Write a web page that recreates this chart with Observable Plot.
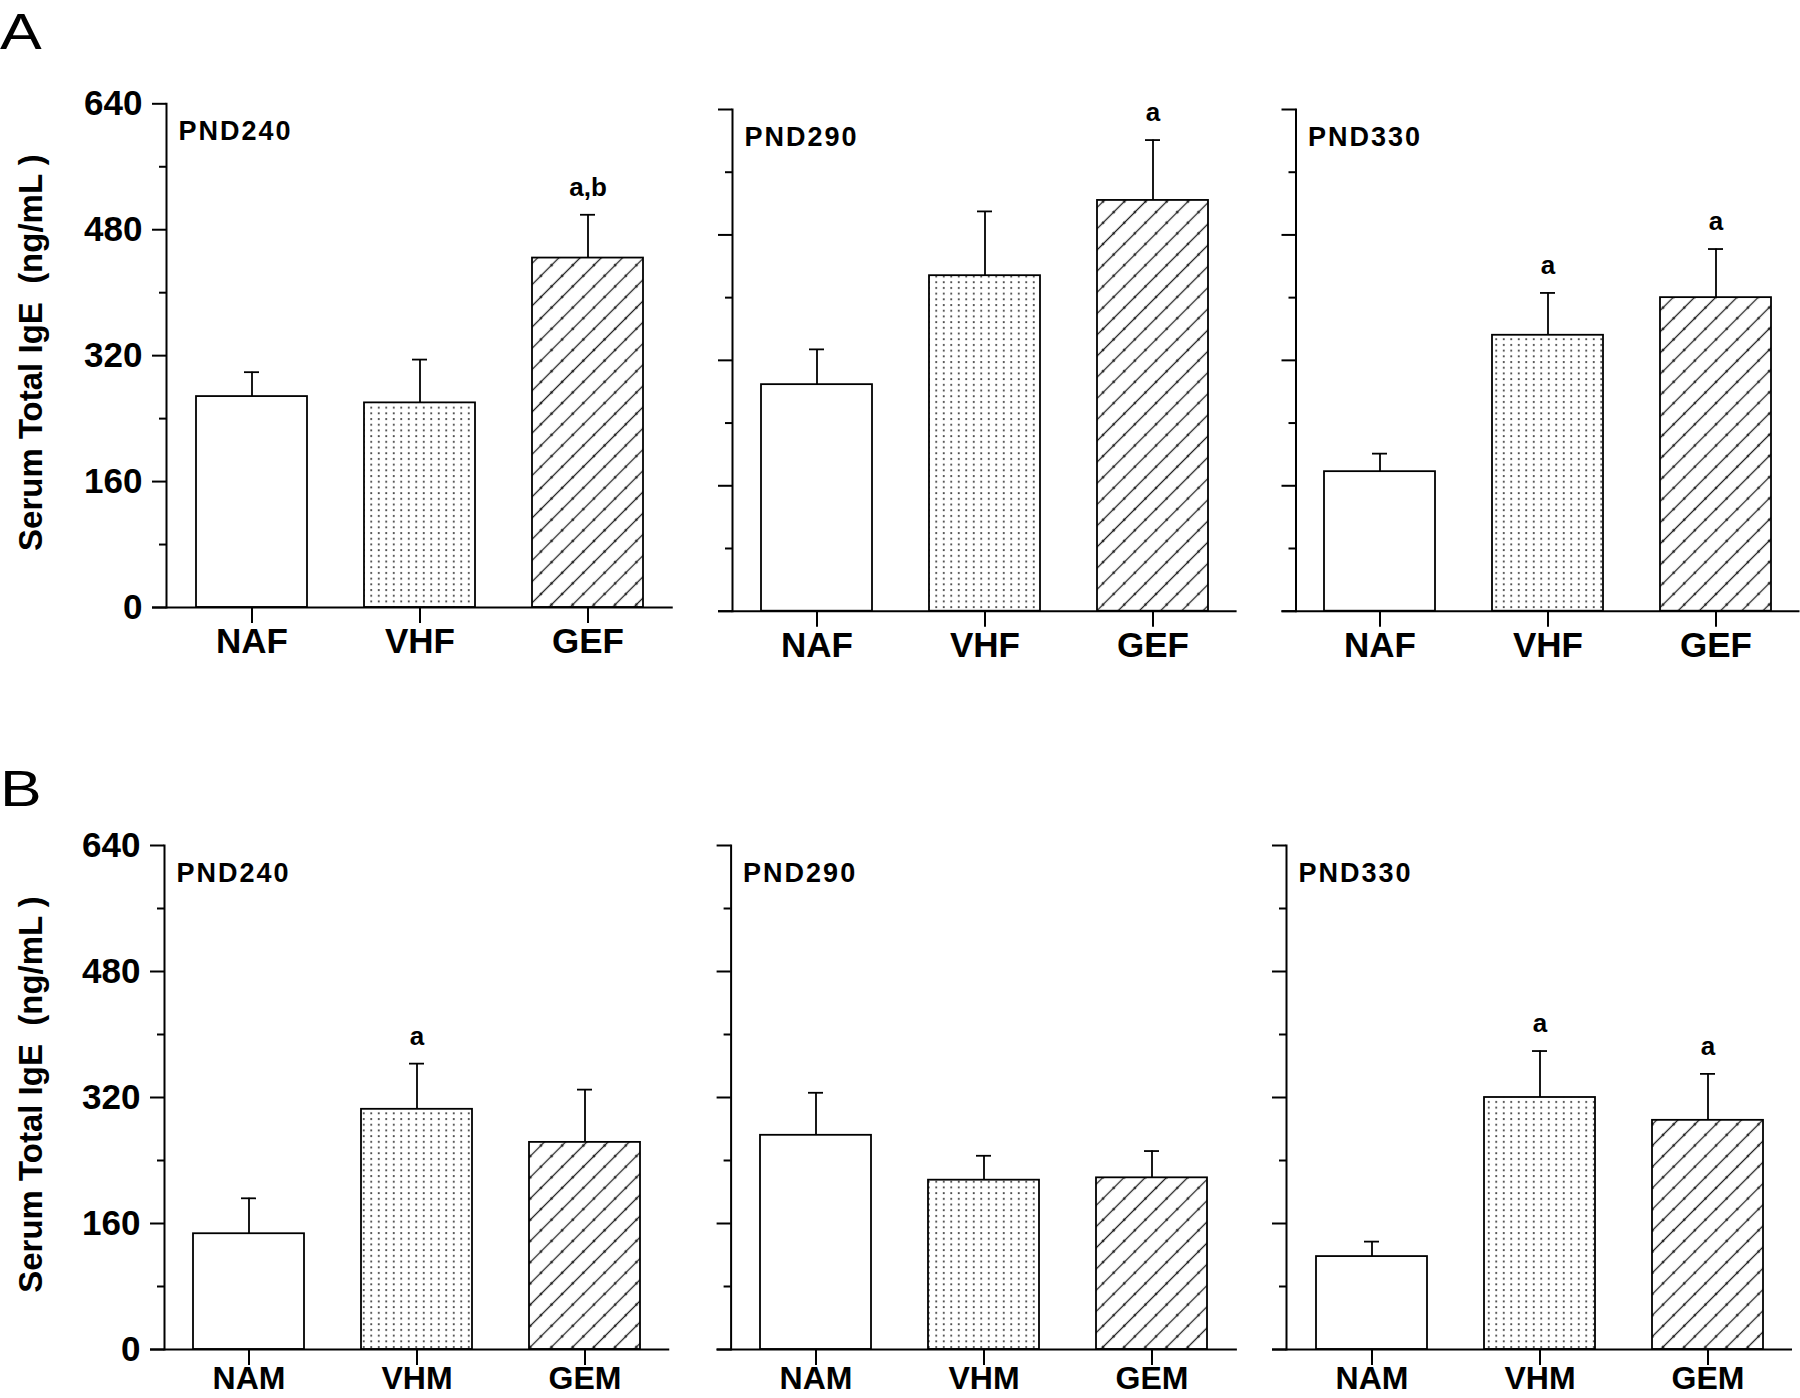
<!DOCTYPE html>
<html><head><meta charset="utf-8">
<script src="https://cdn.jsdelivr.net/npm/d3@7"></script>
<script src="https://cdn.jsdelivr.net/npm/@observablehq/plot@0.6"></script>
<style>
html,body{margin:0;padding:0;background:#fff;overflow:hidden;}
#root{position:relative;width:1800px;height:1398px;overflow:hidden;font-family:"Liberation Sans",Arial,sans-serif;color:#000;}
.panel{position:absolute;}
.letter{position:absolute;left:0;font-size:50px;line-height:1;transform-origin:left top;transform:scaleX(1.25);font-family:"Liberation Sans",Arial,sans-serif;}
</style></head><body>
<div id="root">
<svg width="0" height="0" style="position:absolute">
<defs>
<pattern id="dots" patternUnits="userSpaceOnUse" width="7.5" height="5.7">
 <rect x="3" y="2" width="1.5" height="1.9" fill="#222"/>
</pattern>
<pattern id="hatch" patternUnits="userSpaceOnUse" width="15" height="15" patternTransform="rotate(45)">
 <line x1="7.5" y1="0" x2="7.5" y2="15" stroke="#222" stroke-width="1.3"/>
 <circle cx="7.5" cy="7.5" r="1.3" fill="#111"/>
</pattern>
</defs></svg>
<div class="letter" style="top:7px">A</div>
<div class="letter" style="top:764px">B</div>
</div>
<script>
// ---- data ----
const groupsA = ["NAF", "VHF", "GEF"];
const groupsB = ["NAM", "VHM", "GEM"];
const days = ["PND240", "PND290", "PND330"];
const meanA = [[268, 260, 444], [289, 428, 524], [178, 352, 400]];
const errA  = [[31, 55, 55], [45, 82, 77], [23, 54, 62]];
const sigA  = [["", "", "a,b"], ["", "", "a"], ["", "a", "a"]];
const meanB = [[147, 305, 263], [272, 215, 218], [118, 320, 291]];
const errB  = [[45, 58, 67], [54, 31, 34], [19, 59, 59]];
const sigB  = [["", "a", ""], ["", "", ""], ["", "a", "a"]];
const yTicks = [0, 160, 320, 480, 640];
const yMinorTicks = [80, 240, 400, 560];
const yLabel = "Serum Total IgE\u00a0 (ng/mL )";
const fills = ["white", "url(#dots)", "url(#hatch)"];

// ---- layout ----
const layout = {
  A: [
    {left: 0, top: 0, width: 700, height: 690, mL: 166, mR: 27.25, mT: 103.3, zero: 607, pad: 5, xfs: 35},
    {left: 700, top: 0, width: 560, height: 690, mL: 32, mR: 23.4, mT: 109, zero: 610.7, pad: 5, xfs: 35},
    {left: 1260, top: 0, width: 540, height: 690, mL: 35.5, mR: 0.5, mT: 109, zero: 610.7, pad: 5, xfs: 35}
  ],
  B: [
    {left: 0, top: 700, width: 700, height: 698, mL: 164, mR: 30.75, mT: 145, zero: 649, pad: 1, xfs: 32},
    {left: 700, top: 700, width: 560, height: 698, mL: 30.6, mR: 23.1, mT: 145, zero: 649, pad: 1, xfs: 32},
    {left: 1260, top: 700, width: 540, height: 698, mL: 26, mR: 8, mT: 145, zero: 649, pad: 1, xfs: 32}
  ]
};

const FONT = "'Liberation Sans', Arial, Helvetica, sans-serif";

function panel(cats, means, errs, sigs, day, L, first) {
  const data = cats.map((c, i) => ({cat: c, mean: means[i], top: means[i] + errs[i], sig: sigs[i], fill: fills[i]}));
  const marks = [
    Plot.barY(data, {x: "cat", y: "mean", fill: "fill", stroke: "black", strokeWidth: 1.8}),
    Plot.ruleX(data, {x: "cat", y1: "mean", y2: "top", stroke: "black", strokeWidth: 1.8}),
    Plot.tickY(data, {x: "cat", y: "top", stroke: "black", strokeWidth: 1.8, insetLeft: 48, insetRight: 48}),
    Plot.text(data, {x: "cat", y: "top", text: "sig", dy: -19, lineAnchor: "bottom", fontSize: 26, fontWeight: "bold"}),
    Plot.ruleY([0], {insetLeft: -14, stroke: "black", strokeWidth: 2}),
    Plot.frame({anchor: "left", stroke: "black", strokeWidth: 2}),
    Plot.axisY({ticks: yTicks, tickSize: 14, tickPadding: 10, tickFormat: first ? (d) => String(d) : () => "",
      fontSize: 35, fontWeight: "bold", strokeWidth: 2, label: null}),
    Plot.axisY({ticks: yMinorTicks, tickSize: 7, tickFormat: () => "", strokeWidth: 2, label: null}),
    Plot.axisX({tickSize: 16, tickPadding: L.pad, fontSize: L.xfs, fontWeight: "bold", strokeWidth: 2, label: null}),
    Plot.text([day], {frameAnchor: "top-left", dx: 12, dy: 28, lineAnchor: "middle", textAnchor: "start", fontSize: 27, fontWeight: "bold"})
  ];
  if (first) {
    marks.push(Plot.text([yLabel], {frameAnchor: "left", textAnchor: "middle", lineAnchor: "middle", rotate: -90,
      dx: 31 - L.mL, dy: -3, fontSize: 33, fontWeight: "bold"}));
  }
  const svg = Plot.plot({
    width: L.width,
    height: L.height,
    marginLeft: L.mL,
    marginRight: L.mR,
    marginTop: L.mT,
    marginBottom: L.height - L.zero,
    style: {background: "transparent", fontFamily: FONT, overflow: "visible"},
    x: {domain: cats, paddingInner: 0.34, paddingOuter: 0.17, label: null},
    y: {domain: [0, 640], label: null},
    color: {type: "identity"},
    marks
  });
  svg.querySelectorAll("text").forEach((t) => {
    if (t.textContent.startsWith("PND")) t.setAttribute("letter-spacing", "2");
  });
  const div = document.createElement("div");
  div.className = "panel";
  div.style.left = L.left + "px";
  div.style.top = L.top + "px";
  div.style.width = L.width + "px";
  div.style.height = L.height + "px";
  div.appendChild(svg);
  document.getElementById("root").appendChild(div);
}

for (let k = 0; k < 3; ++k) {
  panel(groupsA, meanA[k], errA[k], sigA[k], days[k], layout.A[k], k === 0);
  panel(groupsB, meanB[k], errB[k], sigB[k], days[k], layout.B[k], k === 0);
}
</script>
</body></html>
